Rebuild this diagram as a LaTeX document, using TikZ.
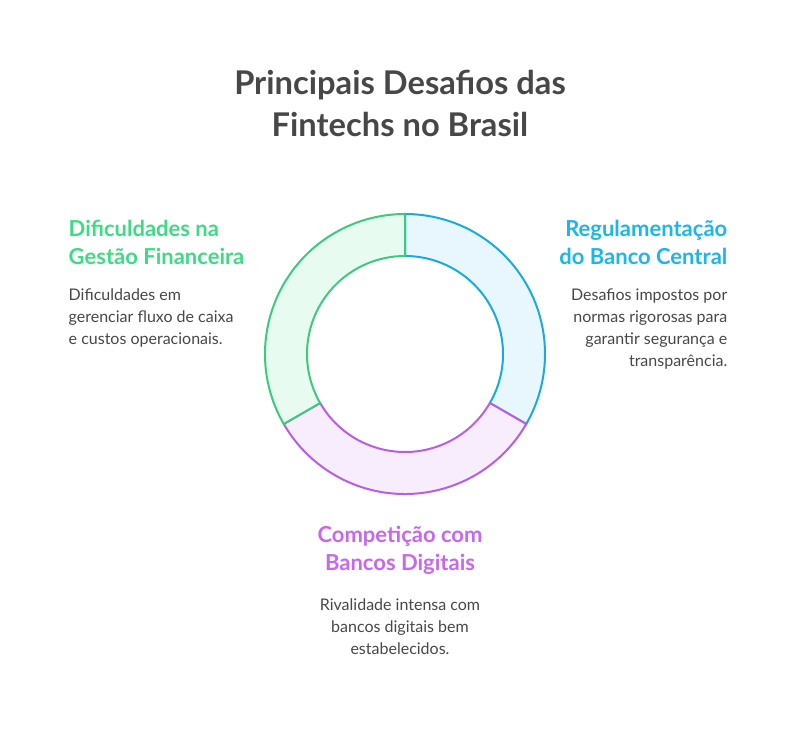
\documentclass[tikz,border=0pt]{standalone}
\usepackage{fontspec}
\setmainfont{Lato}
\begin{document}
\begin{tikzpicture}[x=0.75pt,y=-0.75pt,
 ttl/.style={font=\bfseries\fontsize{24.5}{31.5}\selectfont,text=black!72,align=center},
 hd/.style={font=\bfseries\fontsize{16.5}{21}\selectfont},
 bd/.style={font=\fontsize{12}{16.5}\selectfont,text=black!72}]
\definecolor{gS}{HTML}{3EC97E}\definecolor{gF}{HTML}{E8FBF0}\definecolor{gT}{HTML}{3DDC84}
\definecolor{bS}{HTML}{1AABDC}\definecolor{bF}{HTML}{E8F7FD}\definecolor{bT}{HTML}{1AB7EA}
\definecolor{pS}{HTML}{B85DE6}\definecolor{pF}{HTML}{F7EDFD}\definecolor{pT}{HTML}{C766EE}
\useasboundingbox (0,0) rectangle (800,734);
\coordinate (c) at (405,354);
\def\ro{140}\def\ri{98}
\draw[bS,fill=bF,line width=1.5pt] ([shift={(-90:\ro)}]c) arc[start angle=-90,end angle=30,radius=\ro] -- ([shift={(30:\ri)}]c) arc[start angle=30,end angle=-90,radius=\ri] -- cycle;
\draw[pS,fill=pF,line width=1.5pt] ([shift={(30:\ro)}]c) arc[start angle=30,end angle=150,radius=\ro] -- ([shift={(150:\ri)}]c) arc[start angle=150,end angle=30,radius=\ri] -- cycle;
\draw[gS,fill=gF,line width=1.5pt] ([shift={(150:\ro)}]c) arc[start angle=150,end angle=270,radius=\ro] -- ([shift={(270:\ri)}]c) arc[start angle=270,end angle=150,radius=\ri] -- cycle;
\node[ttl] (t) at (400,103) {Principais Desafios das\\Fintechs no Brasil};
\node[hd,text=gT,anchor=west,align=left] (gh) at (64,242) {Dificuldades na\\Gestão Financeira};
\node[bd,anchor=north west,align=left] (gb) at (64,284) {Dificuldades em\\gerenciar fluxo de caixa\\e custos operacionais.};
\node[hd,text=bT,anchor=east,align=right] (bh) at (732,242) {Regulamentação\\do Banco Central};
\node[bd,anchor=north east,align=right] (bb) at (732,284) {Desafios impostos por\\normas rigorosas para\\garantir segurança e\\transparência.};
\node[hd,text=pT,align=center] (ph) at (400,550) {Competição com\\Bancos Digitais};
\node[bd,anchor=north,align=center] (pb) at (400,594) {Rivalidade intensa com\\bancos digitais bem\\estabelecidos.};
\end{tikzpicture}
\end{document}
